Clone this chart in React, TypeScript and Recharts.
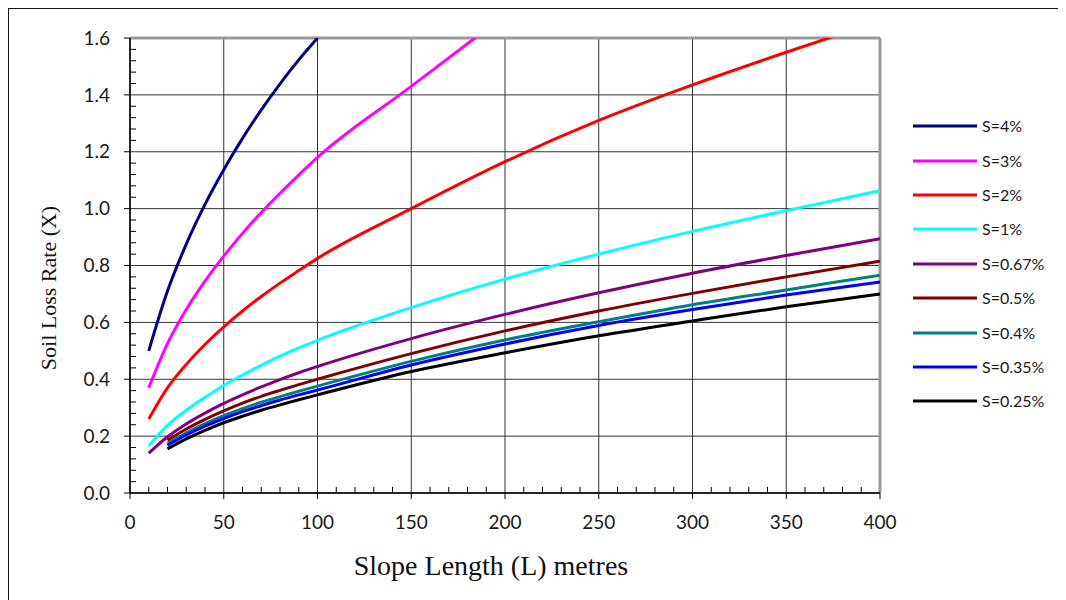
import React from 'react';
import { LineChart, Line, XAxis, YAxis, CartesianGrid, ReferenceLine, Legend, Label } from 'recharts';

const L_VALUES = [10, 20, 30, 40, 50, 60, 70, 80, 90, 100, 150, 200, 250, 300, 350, 400];

const S4 = [0.5, 0.71, 0.875, 1.015, 1.137, 1.247, 1.347, 1.439, 1.523, 1.6, null, null, null, null, null, null];
const S3 = [0.37, 0.525, 0.645, 0.745, 0.833, 0.913, 0.986, 1.054, 1.118, 1.18, 1.43, 1.68, null, null, null, null];
const S2 = [0.26, 0.37, 0.452, 0.522, 0.584, 0.64, 0.691, 0.738, 0.782, 0.825, 1.0, 1.165, 1.31, 1.435, 1.55, 1.66];
const S1 = [0.166, 0.238, 0.291, 0.337, 0.378, 0.415, 0.449, 0.481, 0.51, 0.537, 0.652, 0.752, 0.84, 0.92, 0.993, 1.063];
const S067 = [0.14, 0.198, 0.243, 0.281, 0.315, 0.345, 0.373, 0.399, 0.423, 0.445, 0.543, 0.628, 0.704, 0.773, 0.835, 0.894];
const S05 = [null, 0.185, 0.225, 0.259, 0.289, 0.316, 0.34, 0.361, 0.381, 0.4, 0.49, 0.57, 0.64, 0.702, 0.76, 0.815];
const S04 = [null, 0.175, 0.212, 0.244, 0.272, 0.297, 0.319, 0.339, 0.358, 0.376, 0.463, 0.538, 0.602, 0.662, 0.714, 0.766];
const S035 = [null, 0.168, 0.204, 0.235, 0.262, 0.286, 0.307, 0.327, 0.345, 0.362, 0.45, 0.524, 0.589, 0.645, 0.696, 0.742];
const S025 = [null, 0.155, 0.19, 0.22, 0.247, 0.27, 0.291, 0.31, 0.328, 0.345, 0.427, 0.493, 0.553, 0.605, 0.655, 0.7];

const X_TICKS = [0, 50, 100, 150, 200, 250, 300, 350, 400];
const Y_TICKS = [0, 0.2, 0.4, 0.6, 0.8, 1.0, 1.2, 1.4, 1.6];
const X_ALL_TICKS = Array.from({ length: 41 }, (_, i) => i * 10);
const Y_ALL_TICKS = Array.from({ length: 41 }, (_, i) => Number((i * 0.04).toFixed(2)));

const SERIES = [
  { key: 's4', name: 'S=4%', color: '#000080', values: S4 },
  { key: 's3', name: 'S=3%', color: '#FF00FF', values: S3 },
  { key: 's2', name: 'S=2%', color: '#FF0000', values: S2 },
  { key: 's1', name: 'S=1%', color: '#00FFFF', values: S1 },
  { key: 's067', name: 'S=0.67%', color: '#800080', values: S067 },
  { key: 's05', name: 'S=0.5%', color: '#800000', values: S05 },
  { key: 's04', name: 'S=0.4%', color: '#008080', values: S04 },
  { key: 's035', name: 'S=0.35%', color: '#0000FF', values: S035 },
  { key: 's025', name: 'S=0.25%', color: '#000000', values: S025 },
];

const data = L_VALUES.map((L, i) => {
  const row: Record<string, number | null> = { L };
  SERIES.forEach((s) => {
    row[s.key] = s.values[i];
  });
  return row;
});

const TICK_STYLE = { fontFamily: 'Lato, sans-serif', fontSize: 19, fill: '#1a1a1a' };
const TICK_LEN = 6;
const Y_MARGIN = 14;
const X_MARGIN = 17;

const isMajorY = (v: number) => Y_TICKS.some((t) => Math.abs(t - v) < 1e-6);
const isMajorX = (v: number) => X_TICKS.includes(v);

const YTick = (props: any) => {
  const { x, y, payload } = props;
  const v = Number(payload.value);
  const ax = x + TICK_LEN + Y_MARGIN;
  if (isMajorY(v)) {
    return (
      <g>
        <line x1={ax - TICK_LEN} x2={ax} y1={y} y2={y} stroke="#000" strokeWidth={1} />
        <text x={x} y={y} dy="0.355em" textAnchor="end" style={TICK_STYLE}>
          {v.toFixed(1)}
        </text>
      </g>
    );
  }
  return <line x1={ax} x2={ax + TICK_LEN} y1={y} y2={y} stroke="#000" strokeWidth={1} />;
};

const XTick = (props: any) => {
  const { x, y, payload } = props;
  const v = Number(payload.value);
  const ay = y - TICK_LEN - X_MARGIN;
  if (isMajorX(v)) {
    return (
      <g>
        <line x1={x} x2={x} y1={ay} y2={ay + TICK_LEN} stroke="#000" strokeWidth={1} />
        <text x={x} y={y} dy="0.71em" textAnchor="middle" style={TICK_STYLE}>
          {v}
        </text>
      </g>
    );
  }
  return <line x1={x} x2={x} y1={ay} y2={ay - TICK_LEN} stroke="#000" strokeWidth={1} />;
};

const vGrid = (props: any) => {
  const { xAxis, offset } = props;
  if (xAxis && typeof xAxis.scale === 'function') return X_TICKS.map((v) => xAxis.scale(v));
  return X_TICKS.map((v) => offset.left + (v / 400) * offset.width);
};

const hGrid = (props: any) => {
  const { yAxis, offset } = props;
  if (yAxis && typeof yAxis.scale === 'function') return Y_TICKS.map((v) => yAxis.scale(v));
  return Y_TICKS.map((v) => offset.top + offset.height - (v / 1.6) * offset.height);
};

const renderLegend = () => (
  <div style={{ fontFamily: 'Lato, sans-serif', fontSize: 16, color: '#1a1a1a' }}>
    {SERIES.map((s) => (
      <div key={s.key} style={{ display: 'flex', alignItems: 'center', height: 34.4 }}>
        <svg width={64} height={4} style={{ display: 'block' }}>
          <line x1={0} y1={2} x2={64} y2={2} stroke={s.color} strokeWidth={3} />
        </svg>
        <span style={{ marginLeft: 5, lineHeight: '16px' }}>{s.name}</span>
      </div>
    ))}
  </div>
);

export default function App() {
  return (
    <div
      style={{
        width: 1058,
        height: 592,
        borderTop: '1px solid #111',
        borderLeft: '1px solid #111',
        position: 'relative',
        background: '#fff',
      }}
    >
      <LineChart
        width={1057}
        height={591}
        data={data}
        margin={{ top: 29, right: 186, left: 0, bottom: 47 }}
      >
        <CartesianGrid
          stroke="#333"
          strokeWidth={1}
          verticalCoordinatesGenerator={vGrid}
          horizontalCoordinatesGenerator={hGrid}
        />
        <XAxis
          dataKey="L"
          type="number"
          domain={[0, 400]}
          ticks={X_ALL_TICKS}
          interval={0}
          tick={XTick}
          tickLine={false}
          tickSize={TICK_LEN}
          tickMargin={X_MARGIN}
          height={60}
          axisLine={{ stroke: '#000', strokeWidth: 1.5 }}
        >
          <Label
            content={() => (
              <text
                x={482}
                y={566}
                textAnchor="middle"
                style={{ fontFamily: '"Liberation Serif", serif', fontSize: 28, fill: '#111' }}
              >
                Slope Length (L) metres
              </text>
            )}
          />
        </XAxis>
        <YAxis
          type="number"
          domain={[0, 1.6]}
          allowDataOverflow
          ticks={Y_ALL_TICKS}
          interval={0}
          tick={YTick}
          tickLine={false}
          tickSize={TICK_LEN}
          tickMargin={Y_MARGIN}
          width={121}
          axisLine={{ stroke: '#000', strokeWidth: 1.5 }}
        >
          <Label
            content={() => (
              <text
                x={39}
                y={279}
                transform="rotate(-90 39 279)"
                textAnchor="middle"
                dominantBaseline="central"
                style={{ fontFamily: '"Liberation Serif", serif', fontSize: 22, fill: '#111' }}
              >
                Soil Loss Rate (X)
              </text>
            )}
          />
        </YAxis>
        <ReferenceLine y={1.6} stroke="#999" strokeWidth={3} />
        <ReferenceLine x={400} stroke="#999" strokeWidth={3} />
        {SERIES.map((s) => (
          <Line
            key={s.key}
            dataKey={s.key}
            name={s.name}
            type="monotone"
            stroke={s.color}
            strokeWidth={3}
            dot={false}
            activeDot={false}
            isAnimationActive={false}
          />
        ))}
        <Legend
          layout="vertical"
          align="center"
          verticalAlign="middle"
          content={renderLegend}
          wrapperStyle={{ position: 'absolute', left: 904, top: 100, width: 150, height: 310 }}
        />
      </LineChart>
    </div>
  );
}
